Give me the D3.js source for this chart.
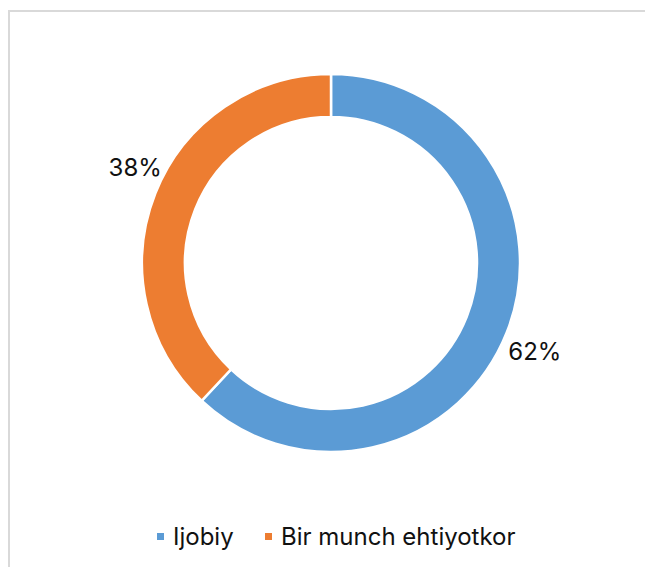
<!DOCTYPE html>
<html>
<head>
<meta charset="utf-8">
<script src="https://cdn.jsdelivr.net/npm/d3@7"></script>
<style>
  html, body { margin: 0; padding: 0; background: #fff; }
  svg { display: block; font-family: "Inter", "Open Sans", sans-serif; }
</style>
</head>
<body>
<div id="chart"></div>
<script>
// Daten
const categories = ["Ijobiy", "Bir munch ehtiyotkor"];
const values = [62, 38];
const colors = ["#5b9bd5", "#ed7d31"];

const width = 645, height = 567;
const cx = 331, cy = 263;
const outerR = 189, innerR = 146;
const labelR = 220, labelShift = 0.055; // Etiketten leicht im Uhrzeigersinn versetzt

const svg = d3.select("#chart")
  .append("svg")
    .attr("width", width)
    .attr("height", height);

// Rahmen (läuft rechts und unten aus dem Bild)
svg.append("rect")
  .attr("x", 9)
  .attr("y", 11)
  .attr("width", 660)
  .attr("height", 580)
  .attr("fill", "#fff")
  .attr("stroke", "#d9d9d9")
  .attr("stroke-width", 2);

const pie = d3.pie().sort(null).value(d => d);
const arcs = pie(values);

const arc = d3.arc().innerRadius(innerR).outerRadius(outerR);

const g = svg.append("g").attr("transform", `translate(${cx},${cy})`);

g.selectAll("path")
  .data(arcs)
  .enter()
  .append("path")
    .attr("d", arc)
    .attr("fill", (d, i) => colors[i])
    .attr("stroke", "#fff")
    .attr("stroke-width", 2.5);

g.selectAll("text")
  .data(arcs)
  .enter()
  .append("text")
    .attr("transform", d => {
      const a = (d.startAngle + d.endAngle) / 2 + labelShift;
      return `translate(${labelR * Math.sin(a)},${-labelR * Math.cos(a)})`;
    })
    .attr("text-anchor", "middle")
    .attr("dx", 4)
    .attr("dy", "0.2em")
    .attr("font-size", 24)
    .attr("fill", "#111")
    .text(d => d.value + "%");

// Legende
const legendX = [157, 265];
const legend = svg.append("g");
categories.forEach((c, i) => {
  legend.append("rect")
    .attr("x", legendX[i])
    .attr("y", 533)
    .attr("width", 7)
    .attr("height", 7)
    .attr("fill", colors[i]);
  legend.append("text")
    .attr("x", legendX[i] + 16)
    .attr("y", 536)
    .attr("dy", "0.36em")
    .attr("font-size", 24)
    .attr("fill", "#111")
    .text(c);
});
</script>
</body>
</html>
